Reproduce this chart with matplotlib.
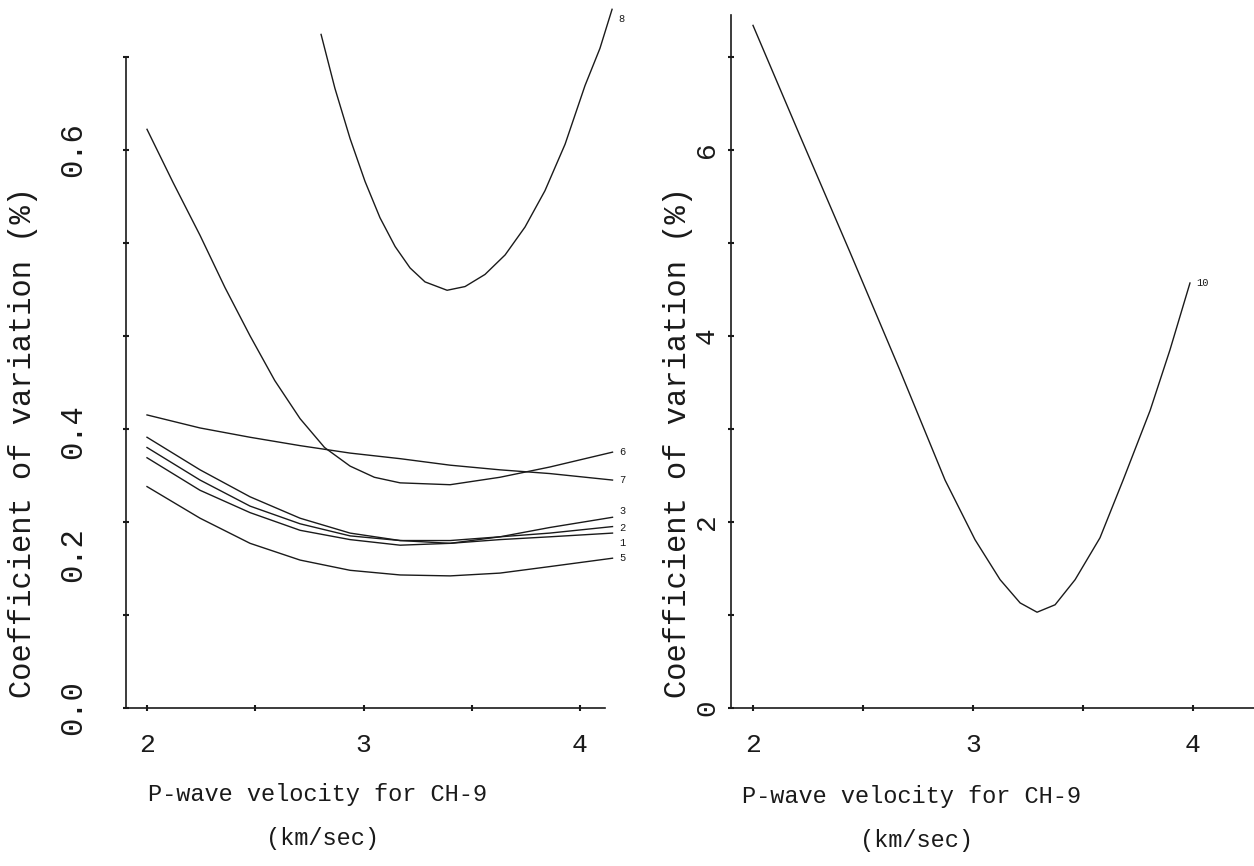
import numpy as np
import matplotlib
matplotlib.use("Agg")
import matplotlib.pyplot as plt
from matplotlib.transforms import blended_transform_factory

plt.rcParams["font.family"] = ["Liberation Mono", "DejaVu Sans Mono"]

# left panel: curves 1-8
x_grid = [2.0, 2.245, 2.476, 2.707, 2.938, 3.169, 3.40, 3.63, 3.86, 4.15]
cv_3 = [0.291, 0.256, 0.227, 0.204, 0.188, 0.180, 0.177, 0.184, 0.194, 0.205]
cv_2 = [0.280, 0.245, 0.217, 0.198, 0.185, 0.180, 0.180, 0.184, 0.188, 0.195]
cv_1 = [0.269, 0.234, 0.210, 0.191, 0.181, 0.175, 0.177, 0.181, 0.184, 0.188]
cv_5 = [0.238, 0.204, 0.177, 0.159, 0.148, 0.143, 0.142, 0.145, 0.152, 0.161]
cv_7 = [0.315, 0.301, 0.291, 0.282, 0.274, 0.268, 0.261, 0.256, 0.252, 0.245]

x_6 = [2.0, 2.12, 2.245, 2.36, 2.476, 2.59, 2.707, 2.82, 2.938, 3.05,
       3.169, 3.40, 3.63, 3.86, 4.15]
cv_6 = [0.622, 0.565, 0.508, 0.452, 0.400, 0.352, 0.311, 0.280, 0.260, 0.248,
        0.242, 0.240, 0.248, 0.259, 0.275]

x_8 = [2.804, 2.868, 2.938, 3.007, 3.076, 3.146, 3.215, 3.284, 3.386,
       3.469, 3.561, 3.654, 3.746, 3.838, 3.931, 4.023, 4.092, 4.148]
cv_8 = [0.724, 0.666, 0.612, 0.566, 0.527, 0.496, 0.473, 0.458, 0.449,
        0.453, 0.466, 0.487, 0.517, 0.556, 0.606, 0.669, 0.709, 0.751]

# right panel: curve 10
x_10 = [2.0, 2.214, 2.441, 2.668, 2.873, 3.009, 3.123, 3.214, 3.291, 3.373,
        3.464, 3.577, 3.682, 3.805, 3.895, 3.986]
cv_10 = [7.34, 6.15, 4.90, 3.63, 2.45, 1.81, 1.38, 1.13, 1.03, 1.11,
         1.38, 1.83, 2.45, 3.20, 3.85, 4.57]

left_curves = [("3", x_grid, cv_3), ("2", x_grid, cv_2), ("1", x_grid, cv_1),
               ("5", x_grid, cv_5), ("7", x_grid, cv_7), ("6", x_6, cv_6),
               ("8", x_8, cv_8)]
# small nudges so the end labels of the bunched curves stay apart
label_dy = {"3": 0.007, "2": -0.001, "1": -0.011, "5": 0.0, "7": 0.0,
            "6": 0.0, "8": -0.01}

# typed tick labels on the left panel sit where the scan shows them
left_ylabels = ["0.0", "0.2", "0.4", "0.6"]
left_ylabel_at = [0.0, 0.165, 0.297, 0.6]

W, H = 1254, 866
fig = plt.figure(figsize=(W / 100, H / 100), dpi=100)

ink = "#1a1a1a"

# ---- left panel
axL = fig.add_axes([126 / W, (H - 708) / H, (640 - 126) / W, 708 / H])
axL.set_xlim(1.903, 4.277)
axL.set_ylim(0, 0.761)
for name, xs, ys in left_curves:
    axL.plot(xs, ys, color=ink, lw=1.0)
    axL.text(xs[-1] + 0.03, ys[-1] + label_dy[name], name, fontsize=7.5,
             va="center", ha="left", color=ink)

axL.spines[["top", "right"]].set_visible(False)
axL.spines["left"].set_bounds(0, 0.70)
axL.spines["bottom"].set_bounds(1.903, 4.115)
axL.set_xticks([2, 2.5, 3, 3.5, 4])
axL.set_xticklabels(["2", "", "3", "", "4"])
axL.set_yticks(np.arange(0, 0.71, 0.1))
axL.set_yticklabels([])
trL = blended_transform_factory(fig.transFigure, axL.transData)
for lab, yv in zip(left_ylabels, left_ylabel_at):
    axL.text(73 / W, yv, lab, transform=trL, rotation=90, ha="center",
             va="center", fontsize=22, color=ink)

# ---- right panel
axR = fig.add_axes([731 / W, (H - 708) / H, (1254 - 731) / W, 708 / H])
axR.set_xlim(1.90, 4.277)
axR.set_ylim(0, 7.613)
axR.plot(x_10, cv_10, color=ink, lw=1.0)
axR.text(x_10[-1] + 0.03, cv_10[-1], "10", fontsize=7.5, va="center",
         ha="left", color=ink)
axR.spines[["top", "right"]].set_visible(False)
axR.spines["left"].set_bounds(0, 7.45)
axR.set_xticks([2, 2.5, 3, 3.5, 4])
axR.set_xticklabels(["2", "", "3", "", "4"])
axR.set_yticks(range(0, 8))
axR.set_yticklabels([])
trR = blended_transform_factory(fig.transFigure, axR.transData)
for lab, yv in zip(["0", "2", "4", "6"], [0, 2, 4, 6]):
    axR.text(707 / W, yv, lab, transform=trR, rotation=90, ha="center",
             va="center", fontsize=20, color=ink)

for ax in (axL, axR):
    ax.patch.set_alpha(0)
    for sp in ax.spines.values():
        sp.set_linewidth(1.2)
        sp.set_color(ink)
    ax.tick_params(direction="inout", length=4, width=1.5, colors=ink,
                   labelsize=19)
    ax.tick_params(axis="x", pad=16)

# axis titles
fig.text(23 / W, 1 - 442 / H, "Coefficient of variation (%)", rotation=90,
         ha="center", va="center", fontsize=22, color=ink)
fig.text(678 / W, 1 - 442 / H, "Coefficient of variation (%)", rotation=90,
         ha="center", va="center", fontsize=22, color=ink)
for cx, y1, y2 in [(318, 795, 838), (912, 797, 840)]:
    fig.text(cx / W, 1 - y1 / H, "P-wave velocity for CH-9", ha="center",
             va="center", fontsize=17, color=ink)
    fig.text((cx + 4) / W, 1 - y2 / H, "(km/sec)", ha="center",
             va="center", fontsize=17, color=ink)

fig.savefig("out.png", dpi=100, facecolor="white")
